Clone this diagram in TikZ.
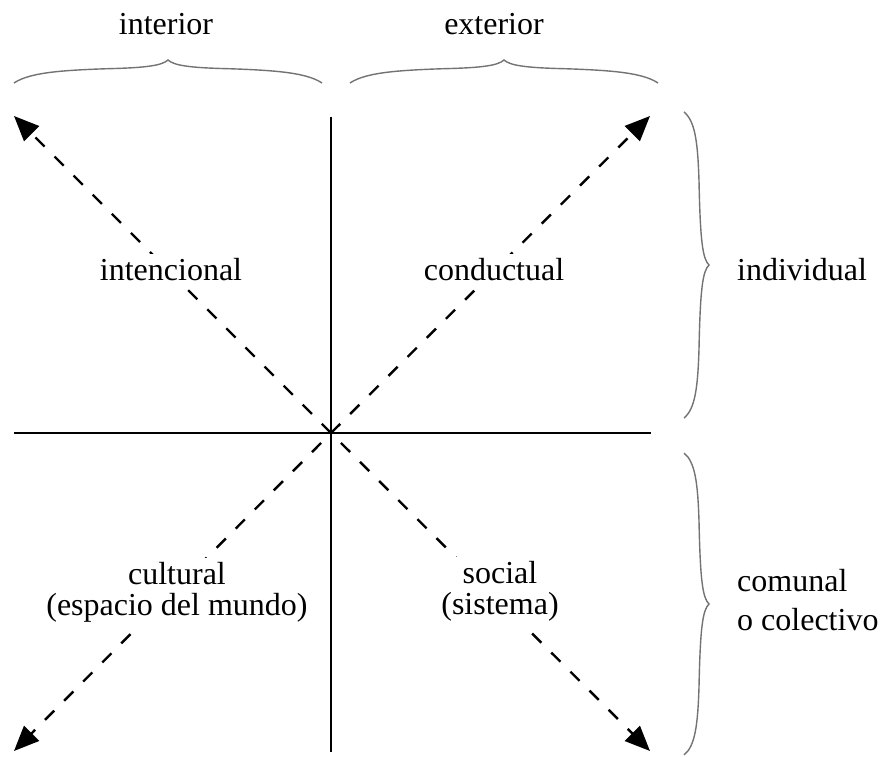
\documentclass[tikz,border=0pt]{standalone}
\usepackage{fontspec}
\setmainfont{Liberation Serif}
\usetikzlibrary{arrows.meta}

% Curly brace along x: from (#1,#2) to (#1+2*#3,#2), tip at (#1+#3,#2+#4)
\newcommand\hcbrace[4]{%
  \draw[bracestyle] (#1,#2)
    .. controls (#1+0.1*#3,#2+0.45*#4) and (#1+0.3*#3,#2+0.55*#4) .. (#1+0.6*#3,#2+0.62*#4)
    .. controls (#1+0.85*#3,#2+0.66*#4) and (#1+0.96*#3,#2+0.75*#4) .. (#1+#3,#2+#4)
    .. controls (#1+1.04*#3,#2+0.75*#4) and (#1+1.15*#3,#2+0.66*#4) .. (#1+1.4*#3,#2+0.62*#4)
    .. controls (#1+1.7*#3,#2+0.55*#4) and (#1+1.9*#3,#2+0.45*#4) .. (#1+2*#3,#2);}
% Curly brace along y: from (#1,#2) to (#1,#2+2*#3), tip at (#1+#4,#2+#3)
\newcommand\vcbrace[4]{%
  \draw[bracestyle] (#1,#2)
    .. controls (#1+0.45*#4,#2+0.06*#3) and (#1+0.55*#4,#2+0.2*#3) .. (#1+0.6*#4,#2+0.45*#3)
    .. controls (#1+0.65*#4,#2+0.85*#3) and (#1+0.75*#4,#2+0.96*#3) .. (#1+#4,#2+#3)
    .. controls (#1+0.75*#4,#2+1.04*#3) and (#1+0.65*#4,#2+1.15*#3) .. (#1+0.6*#4,#2+1.55*#3)
    .. controls (#1+0.55*#4,#2+1.8*#3) and (#1+0.45*#4,#2+1.94*#3) .. (#1,#2+2*#3);}

\begin{document}
\begin{tikzpicture}[x=1pt,y=-1pt,
  axis/.style={line width=2.8pt},
  ray/.style={line width=2.4pt, dash pattern=on 13pt off 14pt,
    -{Triangle[length=25pt,width=21pt]}},
  bracestyle/.style={line width=1.4pt, draw=black!55},
  lbl/.style={font=\fontsize{32}{31}\selectfont, fill=white, inner sep=4pt,
    anchor=base, align=center},
]
\useasboundingbox (0,0) rectangle (883,757);

% axes
\coordinate (O) at (331,433);
\coordinate (top) at (331,117);
\coordinate (bottom) at (331,752);
\coordinate (left) at (14,433);
\coordinate (right) at (651,433);
\draw[axis] (top) -- (bottom);
\draw[axis] (left) -- (right);

% diagonal rays
\coordinate (ul) at (14,116);
\coordinate (ur) at (650,116);
\coordinate (ll) at (14,751);
\coordinate (lr) at (650,751);
\draw[ray] (O) -- (ul);
\draw[ray] (O) -- (ur);
\draw[ray, dash phase=13pt] (O) -- (ll);
\draw[ray, dash phase=13pt] (O) -- (lr);

% braces
\hcbrace{14}{83}{154}{-23}
\hcbrace{350}{83}{154}{-23}
\vcbrace{684}{112}{153}{25}
\vcbrace{684}{453}{151}{25}

% labels (base anchor of a two-line label sits on its last line)
\node[lbl] (interior) at (166,35) {interior};
\node[lbl] (exterior) at (494,35) {exterior};
\node[lbl] (intencional) at (171,280) {intencional};
\node[lbl] (conductual) at (494,280) {conductual};
\node[lbl] (individual) at (802,280) {individual};
\node[lbl] (cultural) at (177,615) {cultural\\(espacio del mundo)};
\node[lbl] (social) at (500,614) {social\\(sistema)};
\node[lbl, align=left, anchor=base west, font=\fontsize{32}{39}\selectfont]
  (comunal) at (733,630) {comunal\\o colectivo};
\end{tikzpicture}
\end{document}
